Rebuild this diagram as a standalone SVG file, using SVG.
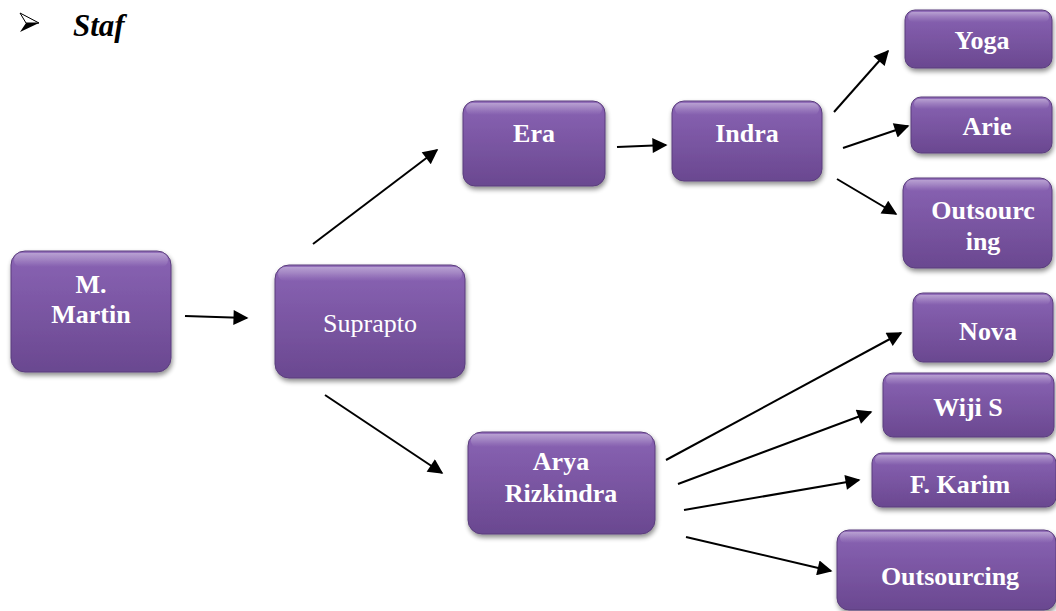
<svg xmlns="http://www.w3.org/2000/svg" width="1056" height="611" viewBox="0 0 1056 611">
  <defs>
    <linearGradient id="boxFill" x1="0" y1="0" x2="0" y2="1">
      <stop offset="0" stop-color="#9470bb"/>
      <stop offset="0.12" stop-color="#8660b0"/>
      <stop offset="1" stop-color="#6a4890"/>
    </linearGradient>
    <linearGradient id="shine" x1="0" y1="0" x2="0" y2="1">
      <stop offset="0" stop-color="#ffffff" stop-opacity="0.35"/>
      <stop offset="1" stop-color="#ffffff" stop-opacity="0"/>
    </linearGradient>
    <filter id="shadow" x="-10%" y="-10%" width="125%" height="130%">
      <feGaussianBlur in="SourceAlpha" stdDeviation="2.5"/>
      <feOffset dx="1" dy="3" result="b"/>
      <feComponentTransfer><feFuncA type="linear" slope="0.45"/></feComponentTransfer>
      <feMerge><feMergeNode/><feMergeNode in="SourceGraphic"/></feMerge>
    </filter>
    <marker id="arrow" viewBox="0 0 10 10" refX="9" refY="5" markerWidth="9" markerHeight="7.5" markerUnits="strokeWidth" orient="auto">
      <path d="M0,0 L10,5 L0,10 z" fill="#000"/>
    </marker>
  </defs>
  <style>
    .box { fill: url(#boxFill); stroke: #5a3d7c; stroke-width: 1; filter: url(#shadow); }
    .hl { fill: url(#shine); }
    .lbl { font-family: "Liberation Serif", "Times New Roman", serif; font-size: 26px; font-weight: bold; fill: #ffffff; text-anchor: middle; }
    .plain { font-weight: normal; }
    .conn line { stroke: #000; stroke-width: 2; marker-end: url(#arrow); }
  </style>

  <rect width="1056" height="611" fill="#ffffff"/>

  <!-- heading -->
  <g id="heading">
    <path d="M20,13 L39,23 L20,32 L26,23 Z" fill="#000"/>
    <path d="M20,13 L39,23 L26,23 Z" fill="#fff" stroke="#000" stroke-width="1"/>
    <text x="73" y="36" font-family="Liberation Serif, Times New Roman, serif" font-size="31" font-weight="bold" font-style="italic" fill="#000">Staf</text>
  </g>

  <!-- connectors -->
  <g id="connectors" class="conn">
    <line x1="185" y1="316" x2="247" y2="318"/>
    <line x1="313" y1="244" x2="437" y2="150"/>
    <line x1="325" y1="395" x2="442" y2="473"/>
    <line x1="617" y1="147" x2="666" y2="145"/>
    <line x1="834" y1="112" x2="888" y2="51"/>
    <line x1="843" y1="148" x2="908" y2="126"/>
    <line x1="837" y1="179" x2="896" y2="214"/>
    <line x1="666" y1="460" x2="901" y2="333"/>
    <line x1="678" y1="484" x2="871" y2="412"/>
    <line x1="684" y1="510" x2="859" y2="480"/>
    <line x1="686" y1="537" x2="831" y2="571"/>
  </g>

  <!-- nodes -->
  <g id="node-martin">
    <rect class="box" x="11" y="251" width="160" height="121" rx="14"/>
    <rect class="hl" x="14" y="253" width="154" height="14" rx="7"/>
    <text class="lbl" x="91" y="293">M.</text>
    <text class="lbl" x="91" y="323">Martin</text>
  </g>
  <g id="node-suprapto">
    <rect class="box" x="275" y="265" width="190" height="113" rx="14"/>
    <rect class="hl" x="278" y="267" width="184" height="14" rx="7"/>
    <text class="lbl plain" x="370" y="332">Suprapto</text>
  </g>
  <g id="node-era">
    <rect class="box" x="463" y="101" width="142" height="85" rx="12"/>
    <rect class="hl" x="466" y="103" width="136" height="12" rx="6"/>
    <text class="lbl" x="534" y="142">Era</text>
  </g>
  <g id="node-indra">
    <rect class="box" x="672" y="101" width="150" height="80" rx="12"/>
    <rect class="hl" x="675" y="103" width="144" height="12" rx="6"/>
    <text class="lbl" x="747" y="142">Indra</text>
  </g>
  <g id="node-arya">
    <rect class="box" x="468" y="432" width="187" height="102" rx="14"/>
    <rect class="hl" x="471" y="434" width="181" height="13" rx="6"/>
    <text class="lbl" x="561" y="470">Arya</text>
    <text class="lbl" x="561" y="502">Rizkindra</text>
  </g>
  <g id="node-yoga">
    <rect class="box" x="905" y="10" width="147" height="58" rx="10"/>
    <rect class="hl" x="908" y="12" width="141" height="10" rx="5"/>
    <text class="lbl" x="982" y="49">Yoga</text>
  </g>
  <g id="node-arie">
    <rect class="box" x="911" y="97" width="141" height="56" rx="10"/>
    <rect class="hl" x="914" y="99" width="135" height="10" rx="5"/>
    <text class="lbl" x="987" y="135">Arie</text>
  </g>
  <g id="node-outsourc">
    <rect class="box" x="903" y="178" width="149" height="90" rx="12"/>
    <rect class="hl" x="906" y="180" width="143" height="11" rx="5"/>
    <text class="lbl" x="983" y="219">Outsourc</text>
    <text class="lbl" x="983" y="250">ing</text>
  </g>
  <g id="node-nova">
    <rect class="box" x="913" y="293" width="140" height="69" rx="10"/>
    <rect class="hl" x="916" y="295" width="134" height="10" rx="5"/>
    <text class="lbl" x="988" y="340">Nova</text>
  </g>
  <g id="node-wiji">
    <rect class="box" x="883" y="373" width="171" height="64" rx="10"/>
    <rect class="hl" x="886" y="375" width="165" height="10" rx="5"/>
    <text class="lbl" x="968" y="416">Wiji S</text>
  </g>
  <g id="node-karim">
    <rect class="box" x="872" y="453" width="184" height="54" rx="10"/>
    <rect class="hl" x="875" y="455" width="178" height="10" rx="5"/>
    <text class="lbl" x="960" y="493">F. Karim</text>
  </g>
  <g id="node-outsourcing">
    <rect class="box" x="837" y="530" width="219" height="80" rx="12"/>
    <rect class="hl" x="840" y="532" width="213" height="11" rx="5"/>
    <text class="lbl" x="950" y="585">Outsourcing</text>
  </g>
</svg>
